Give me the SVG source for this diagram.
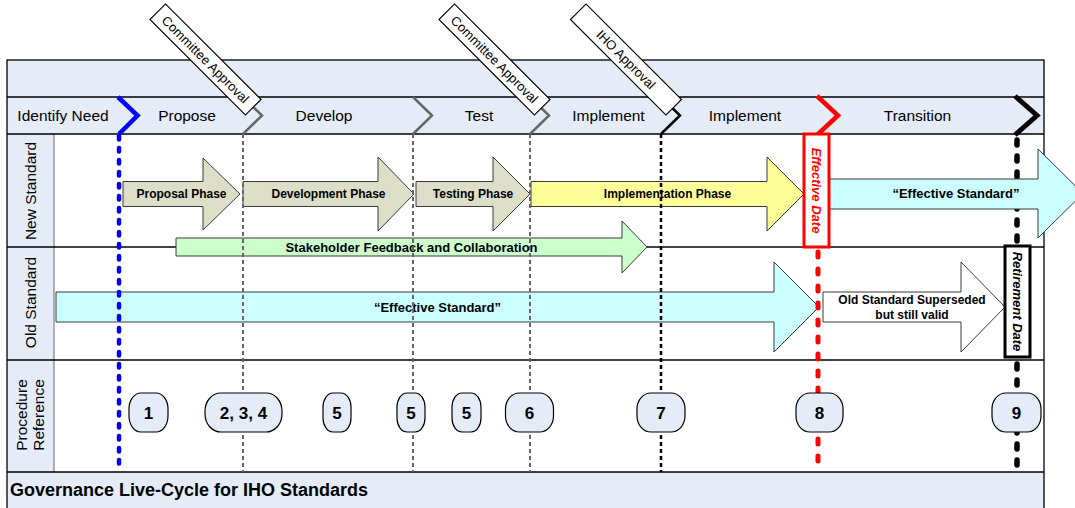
<svg xmlns="http://www.w3.org/2000/svg" width="1075" height="508" viewBox="0 0 1075 508">
<style>
  .band{fill:#e5ecf7}
  .grid{stroke:#000;stroke-width:1.3;fill:none}
  .phase{font-family:"Liberation Sans",Arial,sans-serif;font-size:15.5px;fill:#000;text-anchor:middle}
  .lane{font-family:"Liberation Sans",Arial,sans-serif;font-size:15.5px;fill:#000;text-anchor:middle}
  .arr{stroke:#3a3a3a;stroke-width:1}
  .albl{font-family:"Liberation Sans",Arial,sans-serif;font-weight:bold;font-size:12px;fill:#000;text-anchor:middle}
  .albl13{font-family:"Liberation Sans",Arial,sans-serif;font-weight:bold;font-size:13px;fill:#000;text-anchor:middle}
  .pill rect{fill:#e5ecf7;stroke:#000;stroke-width:1.2}
  .pill text{font-family:"Liberation Sans",Arial,sans-serif;font-weight:bold;font-size:17px;fill:#000;text-anchor:middle}
  .callout rect{fill:#fff;stroke:#000;stroke-width:1.2}
  .callout text{font-family:"Liberation Sans",Arial,sans-serif;font-size:13px;fill:#000;text-anchor:middle}
  .vdate{font-family:"Liberation Sans",Arial,sans-serif;font-weight:bold;font-style:italic;font-size:13px;text-anchor:middle}
</style>

<g id="frame">
  <rect class="band" x="7" y="60" width="1037" height="74"/>
  <rect class="band" x="7" y="134" width="47" height="338"/>
  <rect class="band" x="7" y="472" width="1037" height="40"/>
  <line x1="54" y1="134" x2="54" y2="472" stroke="#888" stroke-width="1.3"/>
  <line class="grid" x1="7" y1="97" x2="1044" y2="97"/>
  <line class="grid" x1="7" y1="134" x2="1044" y2="134"/>
  <line class="grid" x1="7" y1="247" x2="1044" y2="247"/>
  <line class="grid" x1="7" y1="360" x2="1044" y2="360"/>
  <line class="grid" x1="7" y1="472" x2="1044" y2="472"/>
  <rect class="grid" x="7" y="60" width="1037" height="460"/>
</g>

<g id="phase-labels">
  <text class="phase" x="63" y="120.5">Identify Need</text>
  <text class="phase" x="187" y="120.5">Propose</text>
  <text class="phase" x="324" y="120.5">Develop</text>
  <text class="phase" x="479" y="120.5">Test</text>
  <text class="phase" x="608.5" y="120.5">Implement</text>
  <text class="phase" x="745" y="120.5">Implement</text>
  <text class="phase" x="917.5" y="120.5">Transition</text>
</g>

<g id="lane-labels">
  <text class="lane" transform="translate(35.5,191) rotate(-90)">New Standard</text>
  <text class="lane" transform="translate(35.5,302.5) rotate(-90)">Old Standard</text>
  <text class="lane" transform="translate(0,415) rotate(-90)"><tspan x="0" y="26.5">Procedure</tspan><tspan x="0" y="43.5">Reference</tspan></text>
</g>

<g id="caption">
  <text x="10" y="496" font-family="'Liberation Sans',Arial,sans-serif" font-weight="bold" font-size="18px" fill="#000">Governance Live-Cycle for IHO Standards</text>
</g>

<g id="proposal-phase">
  <path class="arr" fill="#dcdec8" d="M123,181.5 H203 V158 L240,194 L203,230 V206.5 H123 Z"/>
  <text class="albl" x="181.5" y="198.3">Proposal Phase</text>
</g>
<g id="development-phase">
  <path class="arr" fill="#dcdec8" d="M243,181.5 H378 V157 L414,194 L378,231 V206.5 H243 Z"/>
  <text class="albl" x="328.5" y="198.3">Development Phase</text>
</g>
<g id="testing-phase">
  <path class="arr" fill="#dcdec8" d="M416,181.5 H493 V157 L530,194 L493,231 V206.5 H416 Z"/>
  <text class="albl" x="473" y="198.3">Testing Phase</text>
</g>
<g id="implementation-phase">
  <path class="arr" fill="#ffff99" d="M531,181.5 H767 V157 L804,194 L767,231 V206.5 H531 Z"/>
  <text class="albl" x="667.5" y="198.3">Implementation Phase</text>
</g>
<g id="stakeholder-feedback">
  <path class="arr" fill="#ccffcc" d="M176,238 H622 V221 L647,247 L622,273 V256 H176 Z"/>
  <text class="albl13" x="411.5" y="251.5">Stakeholder Feedback and Collaboration</text>
</g>
<g id="effective-standard-old">
  <path class="arr" fill="#ccffff" d="M56,292 H774 V262 L819,307 L774,352 V322 H56 Z"/>
  <text class="albl13" x="437.5" y="311.5">“Effective Standard”</text>
</g>
<g id="old-superseded">
  <path class="arr" fill="#ffffff" d="M823,292 H961 V262 L1005,307 L961,352 V322 H823 Z"/>
  <text class="albl" x="912" y="303.5">Old Standard Superseded</text>
  <text class="albl" x="912" y="318.5">but still valid</text>
</g>

<g id="connectors" fill="none">
  <polyline points="118,97 137.5,115.5 119,134" stroke="#0000ff" stroke-width="4.5"/>
  <line x1="119" y1="136" x2="119" y2="470" stroke="#0000ff" stroke-width="4.5" stroke-linecap="round" stroke-dasharray="3.5 8.5"/>
  <polyline points="243,97 262,115.5 243,134" stroke="#666" stroke-width="2.5"/>
  <line x1="243" y1="134" x2="243" y2="472" stroke="#666" stroke-width="2" stroke-dasharray="4 3"/>
  <polyline points="413,97 432,115.5 413,134" stroke="#666" stroke-width="2.5"/>
  <line x1="413" y1="134" x2="413" y2="472" stroke="#666" stroke-width="2" stroke-dasharray="4 3"/>
  <polyline points="530,97 549,115.5 530,134" stroke="#666" stroke-width="2.5"/>
  <line x1="530" y1="134" x2="530" y2="472" stroke="#666" stroke-width="2" stroke-dasharray="4 3"/>
  <polyline points="661,97 680,115.5 661,134" stroke="#000" stroke-width="2.5"/>
  <line x1="661" y1="134" x2="661" y2="472" stroke="#000" stroke-width="2.5" stroke-dasharray="4 3"/>
  <polyline points="817,96 838,115.5 817,135" stroke="#ff0000" stroke-width="4.5"/>
  <line x1="818" y1="252" x2="818" y2="466" stroke="#ff0000" stroke-width="5" stroke-linecap="round" stroke-dasharray="5 12"/>
  <polyline points="1015,96 1037,115.5 1015,135" stroke="#000" stroke-width="5"/>
  <line x1="1017" y1="140" x2="1017" y2="466" stroke="#000" stroke-width="5.5" stroke-linecap="round" stroke-dasharray="5 11"/>
</g>

<g id="effective-standard-new">
  <path class="arr" fill="#ccffff" d="M829,179 H1038 V149 L1083,193.5 L1038,238 V209 H829 Z"/>
  <text class="albl13" x="956" y="198">“Effective Standard”</text>
</g>

<g id="effective-date">
  <rect x="804" y="134" width="25" height="113" fill="#fff" stroke="#ff0000" stroke-width="3"/>
  <text class="vdate" fill="#ff0000" transform="translate(812,190.5) rotate(90)">Effective Date</text>
</g>
<g id="retirement-date">
  <rect x="1005" y="246" width="25" height="111" fill="#fff" stroke="#000" stroke-width="3"/>
  <text class="vdate" fill="#000" transform="translate(1013,301.5) rotate(90)">Retirement Date</text>
</g>

<g id="ref-1" class="pill"><rect x="129" y="393" width="39" height="39" rx="12" ry="16"/><text x="148.5" y="418.5">1</text></g>
<g id="ref-2-3-4" class="pill"><rect x="205" y="393" width="77" height="39" rx="16" ry="18"/><text x="243.5" y="418.5">2, 3, 4</text></g>
<g id="ref-5a" class="pill"><rect x="323" y="393" width="28" height="39" rx="10" ry="14"/><text x="337" y="418.5">5</text></g>
<g id="ref-5b" class="pill"><rect x="397" y="393" width="28" height="39" rx="10" ry="14"/><text x="411" y="418.5">5</text></g>
<g id="ref-5c" class="pill"><rect x="452" y="393" width="29" height="39" rx="10" ry="14"/><text x="466.5" y="418.5">5</text></g>
<g id="ref-6" class="pill"><rect x="505.5" y="393" width="48" height="39" rx="14" ry="16"/><text x="529.5" y="418.5">6</text></g>
<g id="ref-7" class="pill"><rect x="637" y="393" width="48" height="39" rx="14" ry="16"/><text x="661" y="418.5">7</text></g>
<g id="ref-8" class="pill"><rect x="796" y="393" width="47" height="39" rx="14" ry="16"/><text x="819.5" y="418.5">8</text></g>
<g id="ref-9" class="pill"><rect x="992" y="393" width="49" height="39" rx="14" ry="16"/><text x="1016.5" y="418.5">9</text></g>

<g id="callout-committee-1" class="callout" transform="translate(205.5,59.5) rotate(45)">
  <rect x="-67.5" y="-11" width="135" height="22"/>
  <text x="0" y="4.6">Committee Approval</text>
</g>
<g id="callout-committee-2" class="callout" transform="translate(494.5,59.5) rotate(45)">
  <rect x="-67.5" y="-11" width="135" height="22"/>
  <text x="0" y="4.6">Committee Approval</text>
</g>
<g id="callout-iho" class="callout" transform="translate(626,59.5) rotate(45)">
  <rect x="-67.5" y="-11" width="135" height="22"/>
  <text x="0" y="4.6">IHO Approval</text>
</g>
</svg>
